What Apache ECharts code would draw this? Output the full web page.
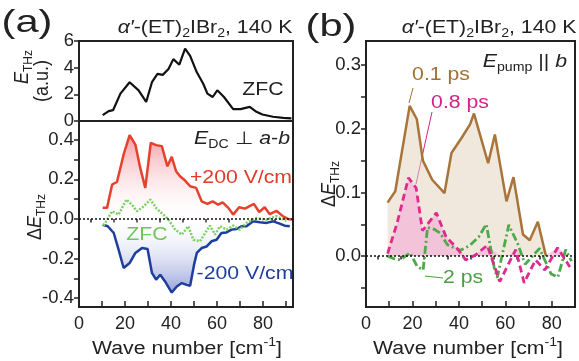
<!DOCTYPE html>
<html>
<head>
<meta charset="utf-8">
<script src="https://cdn.jsdelivr.net/npm/echarts@6/dist/echarts.min.js"></script>
<style>
 html, body { margin: 0; padding: 0; background: #fff; }
 #chart { width: 579px; height: 361px; }
</style>
</head>
<body>
<div id="chart"></div>
<script>
// (a) top: ZFC THz field
const zfcTopX = [10.3, 12.9, 14.8, 18.0, 22.0, 25.9, 29.2, 31.7, 34.1, 36.4, 38.9, 41.0, 43.6, 46.1, 48.3, 51.2, 54.0, 55.8, 58.1, 60.1, 63.0, 67.0, 70.2, 74.2, 77.1, 79.7, 84.3, 88.7, 92.3]
const zfcTopY = [0.44, 0.74, 0.81, 2.05, 2.91, 2.30, 1.43, 2.91, 3.53, 3.46, 3.90, 4.64, 4.22, 5.43, 4.89, 3.65, 2.79, 2.05, 1.80, 2.30, 1.80, 0.89, 0.89, 1.06, 0.69, 0.49, 0.32, 0.24, 0.19]

// (a) bottom: field-induced change
const plusX = [10.3, 12.2, 14.4, 16.5, 19.4, 22.0, 24.5, 26.6, 28.8, 31.2, 33.5, 36.0, 38.4, 40.3, 42.2, 43.9, 46.1, 48.3, 50.9, 53.3, 55.8, 58.1, 60.5, 62.4, 64.9, 67.0, 69.6, 72.1, 76.0, 78.3, 80.7, 82.9, 85.8, 88.7, 90.8, 92.6]
const plusY = [0.056, 0.056, 0.174, 0.187, 0.326, 0.423, 0.376, 0.258, 0.157, 0.385, 0.373, 0.368, 0.266, 0.314, 0.241, 0.216, 0.194, 0.165, 0.157, 0.089, 0.076, 0.089, 0.072, 0.084, 0.056, 0.022, 0.059, 0.052, 0.076, 0.035, 0.059, 0.024, 0.041, 0.013, 0.0, -0.003]
const minusX = [10.3, 12.5, 15.1, 17.2, 19.4, 22.0, 24.5, 27.4, 29.8, 31.7, 33.5, 35.3, 37.4, 40.3, 42.5, 44.7, 46.8, 48.3, 50.0, 51.2, 53.3, 55.5, 57.6, 59.8, 61.9, 64.1, 66.3, 68.5, 70.6, 72.8, 75.7, 78.6, 81.5, 84.4, 87.2, 89.4, 91.6]
const minusY = [-0.029, -0.037, -0.071, -0.155, -0.248, -0.223, -0.172, -0.147, -0.152, -0.273, -0.307, -0.282, -0.316, -0.372, -0.341, -0.324, -0.333, -0.338, -0.231, -0.172, -0.147, -0.139, -0.113, -0.105, -0.071, -0.068, -0.054, -0.051, -0.037, -0.037, -0.012, -0.017, -0.020, -0.012, -0.024, -0.034, -0.037]
const zfcX = [10.7, 14.4, 17.2, 20.6, 23.0, 25.2, 27.8, 31.0, 33.8, 36.7, 38.9, 41.8, 44.7, 47.5, 49.7, 52.6, 54.8, 56.9, 59.1, 61.3, 64.2, 67.0, 69.9, 72.8, 77.1, 81.3, 85.8, 90.1]
const zfcY = [-0.034, 0.039, 0.022, 0.098, 0.072, 0.039, 0.061, 0.098, 0.051, 0.022, -0.004, -0.054, -0.079, -0.037, -0.105, -0.113, -0.071, -0.034, -0.079, -0.037, -0.054, -0.034, -0.054, -0.020, 0.005, -0.004, 0.014, -0.010]

// (b) photo-induced change at 0.1 / 0.8 / 2 ps
const x01 = [9.3, 12.6, 18.8, 21.9, 24.5, 28.5, 33.8, 36.8, 41.2, 44.8, 46.5, 52.6, 55.5, 60.5, 63.5, 67.6, 70.5, 74.0, 77.5]
const y01 = [0.084, 0.102, 0.236, 0.215, 0.150, 0.120, 0.099, 0.162, 0.186, 0.207, 0.224, 0.146, 0.191, 0.086, 0.124, 0.034, 0.025, 0.054, 0.0]
const x08 = [9.3, 13.4, 18.3, 21.6, 24.3, 30.3, 34.5, 39.3, 42.9, 47.3, 52.2, 57.6, 61.0, 64.5, 68.1, 73.0, 77.0, 82.5, 87.8]
const y08 = [0.004, 0.052, 0.123, 0.107, 0.040, 0.068, 0.030, 0.012, -0.006, 0.002, 0.017, -0.040, -0.015, 0.010, -0.042, -0.006, -0.022, 0.013, -0.017]
const x2 = [9.3, 12.0, 14.8, 19.0, 22.0, 24.6, 26.5, 29.5, 32.0, 35.0, 40.5, 44.5, 48.5, 51.8, 55.2, 56.5, 61.5, 65.5, 68.5, 74.7, 79.7, 82.6, 86.0, 88.5]
const y2 = [0.000, -0.004, -0.006, 0.005, -0.016, -0.022, 0.045, 0.042, 0.036, 0.018, 0.009, 0.016, 0.030, 0.050, -0.018, -0.034, 0.049, 0.018, -0.013, 0.012, -0.028, -0.033, 0.010, -0.008]

// ticks
const xMajor = [0, 10, 20, 30, 40, 50, 60, 70, 80, 90]
const xMinor = [5, 15, 25, 35, 45, 55, 65, 75, 85]
const xLabels = [0, 20, 40, 60, 80]
const topTicks = [0, 2, 4, 6]
const aTicks = [-0.4, -0.3, -0.2, -0.1, 0, 0.1, 0.2, 0.3, 0.4]
const aLabels = [-0.4, -0.2, 0, 0.2, 0.4]
const bTicks = [-0.05, 0, 0.05, 0.1, 0.15, 0.2, 0.25, 0.3]
const bLabels = [0, 0.1, 0.2, 0.3]

const FONT = '"Liberation Sans", Arial, sans-serif'
const INK = '#222'
const SX = 1.18

const zip = (xs, ys) => xs.map((x, i) => [x, ys[i]])

const xAxisMain = (grid, max, withLabels) => ({
 type: 'value', gridIndex: grid, min: 0, max: max,
 axisLine: { show: true, onZero: false, lineStyle: { color: INK, width: 2 } },
 splitLine: { show: false },
 axisTick: { show: withLabels, inside: true, length: 6, customValues: xMajor, lineStyle: { color: INK, width: 1.5 } },
 axisLabel: { show: withLabels, customValues: xLabels, fontSize: 18, color: INK, margin: 8, fontFamily: FONT }
})
const xAxisMinor = (grid, max) => ({
 type: 'value', gridIndex: grid, min: 0, max: max,
 axisLine: { show: false }, splitLine: { show: false }, axisLabel: { show: false },
 axisTick: { show: true, inside: true, length: 3.5, customValues: xMinor, lineStyle: { color: INK, width: 1.5 } }
})
const yAxisDef = (grid, min, max, ticks, labels, fmt) => ({
 type: 'value', gridIndex: grid, min: min, max: max,
 axisLine: { show: true, onZero: false, lineStyle: { color: INK, width: 2 } },
 splitLine: { show: false },
 axisTick: { show: true, length: 5, customValues: ticks, lineStyle: { color: INK, width: 1.5 } },
 axisLabel: { customValues: labels, fontSize: 18.5, color: INK, margin: 5, fontFamily: FONT, formatter: fmt }
})

const zeroLine = {
 silent: true, symbol: 'none', label: { show: false },
 lineStyle: { color: '#111', type: [2, 2], width: 1.5 },
 data: [{ yAxis: 0 }]
}

const grad = (c0, c1) => new echarts.graphic.LinearGradient(0, 0, 0, 1, [
 { offset: 0, color: c0 }, { offset: 1, color: c1 }
])

// text annotation; el holds element-level props (rotation, scale)
const txt = (x, y, text, style, el) => Object.assign({
 type: 'text', x: x, y: y, silent: true, scaleX: SX,
 style: Object.assign({ text: text, font: '18px ' + FONT, fill: INK, align: 'center', verticalAlign: 'middle' }, style || {})
}, el || {})
const vtxt = (x, y, text, style) => txt(x, y, text, style, { rotation: Math.PI / 2, scaleX: 1, scaleY: 1.12 })

const sub = { fontSize: 12, fontFamily: FONT, verticalAlign: 'bottom', lineHeight: 10 }
const base = { fontSize: 18, fontFamily: FONT, lineHeight: 24 }
const ital = { fontSize: 18, fontFamily: FONT, lineHeight: 24, fontStyle: 'italic' }
const sup = { fontSize: 12, fontFamily: FONT, verticalAlign: 'top', lineHeight: 10 }

const titleRich = { b: base, i: ital, s: sub }
const titleText = "{i|α′}{b|-(ET)}{s|2}{b|IBr}{s|2}{b|, 140 K}"
const waveText = '{b|Wave number [cm}{p|-1}{b|]}'
const dEText = '{b|Δ}{i|E}{s|THz}'

const chart = echarts.init(document.getElementById('chart'))
chart.setOption({
 animation: false,
 backgroundColor: '#fff',
 grid: [
  { left: 79, top: 41, width: 214, height: 80, show: true, borderColor: INK, borderWidth: 2 },
  { left: 79, top: 121, width: 214, height: 186, show: true, borderColor: INK, borderWidth: 2 },
  { left: 366, top: 41, width: 209, height: 266, show: true, borderColor: INK, borderWidth: 2 }
 ],
 xAxis: [
  xAxisMain(0, 93, false),
  xAxisMain(1, 93, true),
  xAxisMinor(1, 93),
  xAxisMain(2, 90, true),
  xAxisMinor(2, 90)
 ],
 yAxis: [
  yAxisDef(0, 0, 6, topTicks, topTicks, v => String(v)),
  yAxisDef(1, -0.445, 0.495, aTicks, aLabels, v => v.toFixed(1)),
  yAxisDef(2, -0.08, 0.338, bTicks, bLabels, v => v.toFixed(1))
 ],
 series: [
  {
   name: 'ZFC top', type: 'line', xAxisIndex: 0, yAxisIndex: 0,
   data: zip(zfcTopX, zfcTopY), symbol: 'none',
   lineStyle: { color: '#111', width: 2.2 }
  },
  {
   name: '+200 V/cm', type: 'line', xAxisIndex: 1, yAxisIndex: 1,
   data: zip(plusX, plusY), symbol: 'none', z: 3,
   lineStyle: { color: '#e5412c', width: 2.5 },
   areaStyle: { origin: 'auto', color: grad('rgba(236,90,100,0.85)', 'rgba(255,255,255,0.1)') }
  },
  {
   name: '-200 V/cm', type: 'line', xAxisIndex: 1, yAxisIndex: 1,
   data: zip(minusX, minusY), symbol: 'none', z: 3,
   lineStyle: { color: '#1d3e9c', width: 2.5 },
   areaStyle: { origin: 'auto', color: grad('rgba(255,255,255,0.1)', 'rgba(70,90,190,0.8)') }
  },
  {
   name: 'ZFC', type: 'line', xAxisIndex: 1, yAxisIndex: 1,
   data: zip(zfcX, zfcY), symbol: 'none', z: 4,
   lineStyle: { color: '#7dd062', width: 2.5, type: [2, 1.5] },
   markLine: zeroLine
  },
  {
   name: '0.1 ps', type: 'line', xAxisIndex: 3, yAxisIndex: 2,
   data: zip(x01, y01), symbol: 'none', z: 3,
   lineStyle: { color: '#a8743a', width: 2.5 },
   areaStyle: { origin: 'auto', color: 'rgba(226,212,190,0.75)' }
  },
  {
   name: '0.8 ps fill', type: 'line', xAxisIndex: 3, yAxisIndex: 2,
   data: zip(x08, y08.map(v => Math.max(0, v))), symbol: 'none', z: 3,
   lineStyle: { width: 0, opacity: 0 },
   areaStyle: { origin: 'auto', color: 'rgba(244,170,214,0.85)' }
  },
  {
   name: '0.8 ps', type: 'line', xAxisIndex: 3, yAxisIndex: 2,
   data: zip(x08, y08), symbol: 'none', z: 5,
   lineStyle: { color: '#df2a8c', width: 2.8, type: [7, 4] }
  },
  {
   name: '2 ps', type: 'line', xAxisIndex: 3, yAxisIndex: 2,
   data: zip(x2, y2), symbol: 'none', z: 4,
   lineStyle: { color: '#4daa48', width: 2.8, type: [8, 3, 2, 3] },
   markLine: zeroLine
  }
 ],
 graphic: [
  txt(27, 23, '(a)', { font: '32px ' + FONT }, { scaleX: 1.3 }),
  txt(331, 27, '(b)', { font: '32px ' + FONT }, { scaleX: 1.3 }),
  txt(205, 28, titleText, { rich: titleRich }),
  txt(489, 28, titleText, { rich: titleRich }),
  vtxt(22, 67, '{i|E}{s|THz}', { rich: titleRich }),
  vtxt(42, 81, '(a.u.)', {}),
  vtxt(35, 217, dEText, { rich: titleRich }),
  vtxt(329, 184, dEText, { rich: titleRich }),
  txt(187, 349, waveText, { rich: { b: base, p: sup } }),
  txt(468, 349, waveText, { rich: { b: base, p: sup } }),
  txt(263, 90, 'ZFC', {}),
  txt(290, 139, '{i|E}{s|DC}{b| ⊥ }{i|a}{b|-}{i|b}', { rich: titleRich, align: 'right' }),
  txt(241, 178, '+200 V/cm', { fill: '#e03a28' }),
  txt(147, 235, 'ZFC', { fill: '#5cbf3c' }),
  txt(245, 274, '-200 V/cm', { fill: '#1d3e9c' }),
  txt(567, 62, '{i|E}{s|pump}{b| || }{i|b}', { rich: titleRich, align: 'right' }),
  txt(441, 75, '0.1 ps', { fill: '#a07030' }),
  txt(460, 103, '0.8 ps', { fill: '#d6208a' }),
  txt(463, 278, '2 ps', { fill: '#4aa040' }),
  { type: 'line', silent: true, shape: { x1: 413, y1: 88, x2: 409, y2: 103 }, style: { stroke: '#a07030', lineWidth: 1 } },
  { type: 'line', silent: true, shape: { x1: 432, y1: 112, x2: 416, y2: 184 }, style: { stroke: '#d6208a', lineWidth: 1 } },
  { type: 'line', silent: true, shape: { x1: 425, y1: 276, x2: 443, y2: 278 }, style: { stroke: '#4aa040', lineWidth: 1 } }
 ]
})
</script>
</body>
</html>
